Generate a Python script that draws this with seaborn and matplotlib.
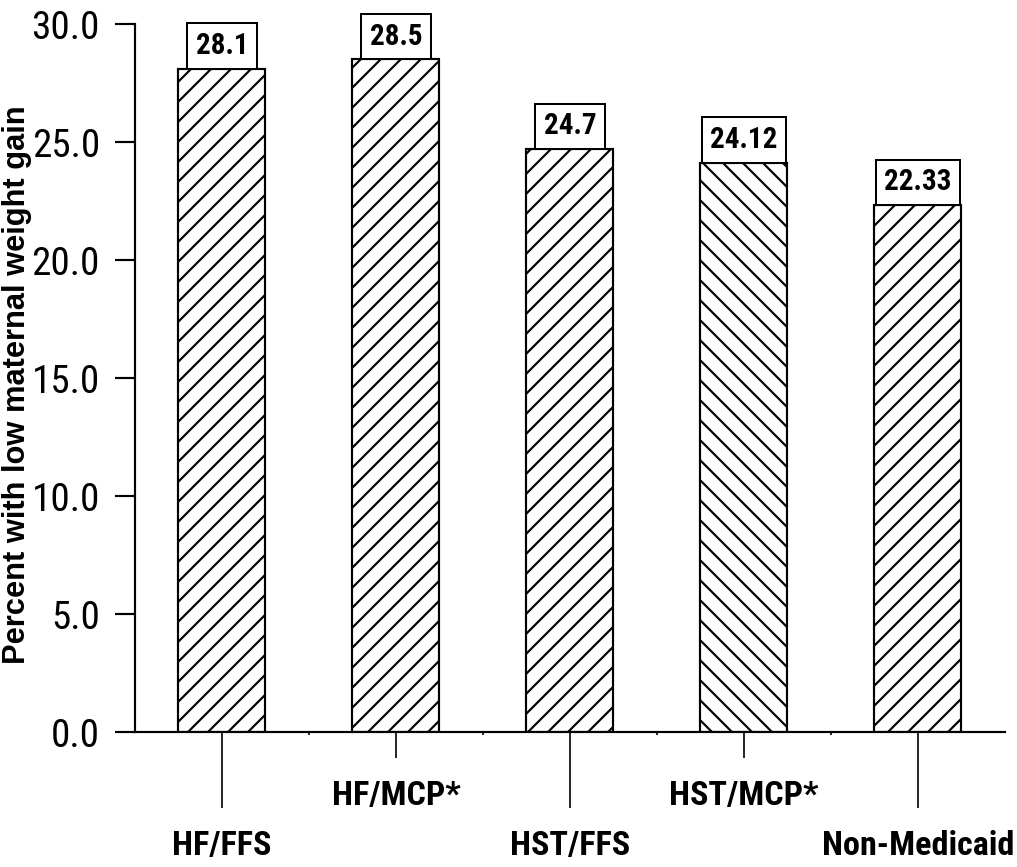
import matplotlib
matplotlib.use("Agg")
import matplotlib.pyplot as plt
from matplotlib import font_manager
import pandas as pd
import seaborn as sns

# Share of births with low maternal weight gain, by coverage group
groups = ["HF/FFS", "HF/MCP*", "HST/FFS", "HST/MCP*", "Non-Medicaid"]
percent = [28.1, 28.5, 24.7, 24.12, 22.33]
hatches = ["//", "//", "//", "\\\\", "//"]
y_ticks = [0.0, 5.0, 10.0, 15.0, 20.0, 25.0, 30.0]

df = pd.DataFrame({"group": groups, "percent": percent})

sns.set_style("ticks")

# prefer a narrow sans face when one is available
names = {f.name for f in font_manager.fontManager.ttflist}
narrow = None
for cand in ["Liberation Sans Narrow", "Arial Narrow", "Roboto Condensed",
             "DejaVu Sans Condensed", "Open Sans Condensed", "Noto Sans Condensed"]:
    if cand in names:
        narrow = cand
        break
if narrow is None:
    for f in font_manager.fontManager.ttflist:
        if "Narrow" in f.name or "Condensed" in f.name:
            narrow = f.name
            break
base = narrow if narrow else "Liberation Sans"
k = 1.0 if narrow else 0.82   # shrink sizes for a regular-width face

plt.rcParams["font.family"] = [base, "DejaVu Sans"]
plt.rcParams["hatch.linewidth"] = 1.3
plt.rcParams["hatch.color"] = "black"
for key in ("text.color", "axes.labelcolor", "xtick.color", "ytick.color", "axes.edgecolor"):
    plt.rcParams[key] = "black"

DPI = 120
fig = plt.figure(figsize=(1018 / DPI, 867 / DPI), dpi=DPI)
ax = fig.add_axes([0.1326, 0.1557, 0.8546, 0.8166])

sns.barplot(data=df, x="group", y="percent", color="white", edgecolor="black",
            linewidth=1.3, width=0.5, saturation=1, ax=ax)

for bar, h in zip(ax.patches, hatches):
    bar.set_hatch(h)
    bar.set_facecolor("white")
    bar.set_edgecolor("black")

ax.set_xlim(-0.5, len(groups) - 0.5)
ax.set_ylim(0, 30)

# Value boxes sitting on top of each bar
fs_val = 17.5 * k
pad = 0.3 / k
for i, v in enumerate(percent):
    ax.annotate(str(v), xy=(i, v), xytext=(0, pad * fs_val), textcoords="offset points",
                ha="center", va="bottom", fontsize=fs_val, fontweight="bold",
                bbox=dict(boxstyle=f"square,pad={pad}", facecolor="white",
                          edgecolor="black", linewidth=1.2))

# y axis
ax.set_yticks(y_ticks, [f"{t:.1f}" for t in y_ticks])
ax.tick_params(axis="y", length=12, width=1.3, pad=9, labelsize=23.5 * k)
ax.set_ylabel("Percent with low maternal weight gain", fontsize=18.5, fontweight="bold",
              family=["Liberation Sans", "DejaVu Sans"])
ax.yaxis.set_label_coords(-0.118, 0.49)

# staggered category labels: long ticks for even positions, short for odd
major_pos = list(range(0, len(groups), 2))
minor_pos = list(range(1, len(groups), 2))
ax.set_xticks(major_pos, [groups[i] for i in major_pos])
ax.set_xticks(minor_pos, [groups[i] for i in minor_pos], minor=True)
ax.tick_params(axis="x", which="major", length=45.6, width=1.0, pad=13,
               labelsize=20.5 * k)
ax.tick_params(axis="x", which="minor", length=15.6, width=1.0, pad=13,
               labelsize=20.5 * k)
for lab in ax.get_xticklabels(which="both"):
    lab.set_fontweight("bold")
ax.set_xlabel("")

# small separators between the groups
sec = ax.secondary_xaxis("bottom")
sec.set_xticks([i + 0.5 for i in range(len(groups) - 1)], [])
sec.tick_params(length=2, width=1.0)
sec.spines["bottom"].set_visible(False)

for side in ("top", "right"):
    ax.spines[side].set_visible(False)
for side in ("left", "bottom"):
    ax.spines[side].set_linewidth(1.3)

fig.savefig("out.png", dpi=DPI)
